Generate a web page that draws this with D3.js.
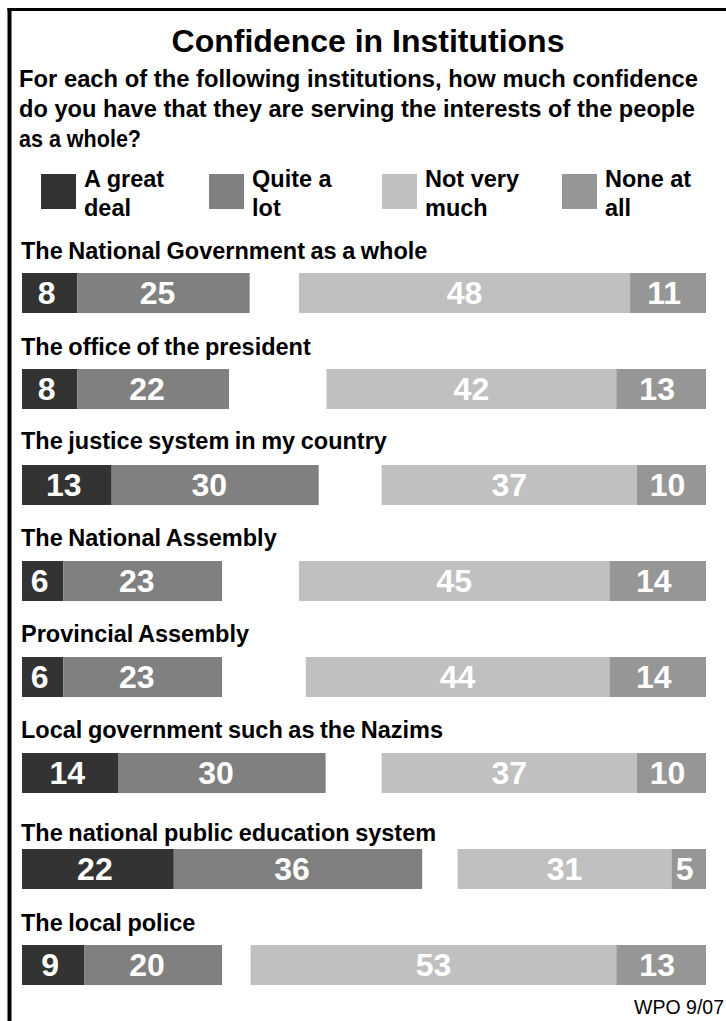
<!DOCTYPE html>
<html>
<head>
<meta charset="utf-8">
<script src="https://cdn.jsdelivr.net/npm/d3@7/dist/d3.min.js"></script>
<style>
  html, body { margin: 0; padding: 0; background: #fff; }
  svg { display: block; }
  text { font-family: "Liberation Sans", Arial, sans-serif; }
</style>
</head>
<body>
<svg id="chart" width="726" height="1021"></svg>
<script>
// ---- data ----
const titleText = "Confidence in Institutions";
const subtitleLines = [
  "For each of the following institutions, how much confidence",
  "do you have that they are serving the interests of the people",
  "as a whole?"
];
const categories = ["A great deal", "Quite a lot", "Not very much", "None at all"];
const legendLines = [["A great", "deal"], ["Quite a", "lot"], ["Not very", "much"], ["None at", "all"]];
const institutions = [
  "The National Government as a whole",
  "The office of the president",
  "The justice system in my country",
  "The National Assembly",
  "Provincial Assembly",
  "Local government such as the Nazims",
  "The national public education system",
  "The local police"
];
const greatDeal   = [8, 8, 13, 6, 6, 14, 22, 9];
const quiteALot   = [25, 22, 30, 23, 23, 30, 36, 20];
const notVeryMuch = [48, 42, 37, 45, 44, 37, 31, 53];
const noneAtAll   = [11, 13, 10, 14, 14, 10, 5, 13];
const sourceNote = "WPO 9/07";

// ---- layout / style ----
const colors = ["#333333", "#808080", "#c0c0c0", "#969696"];
const valueShift = [-3, -6, 0, -4];
const barLeft = 22, barRight = 706, barH = 40;
const labelLift = [14, 14, 16, 15, 15, 15, 8, 14];

const svg = d3.select("#chart");

// frame
svg.append("rect").attr("x", 7.5).attr("y", 8).attr("width", 4).attr("height", 1021).attr("fill", "#000");
svg.append("rect").attr("x", 7.5).attr("y", 8).attr("width", 726).attr("height", 3).attr("fill", "#000");

// title
svg.append("text").attr("x", 368).attr("y", 52).attr("text-anchor", "middle")
  .attr("font-size", 32).attr("font-weight", "bold").attr("fill", "#000").text(titleText);

// subtitle
const subWidths = [679, 676, 122];
subtitleLines.forEach((s, i) => {
  svg.append("text").attr("x", 19).attr("y", 87 + i * 30)
    .attr("font-size", 23.5).attr("font-weight", "bold").attr("fill", "#000")
    .attr("textLength", subWidths[i]).attr("lengthAdjust", "spacingAndGlyphs")
    .text(s);
});

// legend
const legendX = [41, 209, 382, 562];
categories.forEach((c, i) => {
  const g = svg.append("g");
  g.append("rect").attr("x", legendX[i]).attr("y", 174).attr("width", 35).attr("height", 35).attr("fill", colors[i]);
  legendLines[i].forEach((ln, j) => {
    g.append("text").attr("x", legendX[i] + 43).attr("y", 187 + j * 29)
      .attr("font-size", 23.5).attr("font-weight", "bold").attr("fill", "#000").text(ln);
  });
});

// scales
const x = d3.scaleLinear().domain([0, 100]).range([0, 690]);
const y = d3.scaleLinear().domain([0, 1]).range([273, 369]);

const rows = institutions.map((name, i) => {
  const g = greatDeal[i], q = quiteALot[i], n = notVeryMuch[i], z = noneAtAll[i];
  return {
    name, i,
    segs: [
      { v: g, x0: barLeft, x1: barLeft + x(g), c: 0 },
      { v: q, x0: barLeft + x(g), x1: barLeft + x(g + q), c: 1 },
      { v: n, x0: barRight - x(n + z), x1: barRight - x(z), c: 2 },
      { v: z, x0: barRight - x(z), x1: barRight, c: 3 }
    ]
  };
});

const rowG = svg.selectAll("g.row").data(rows).join("g").attr("class", "row");

rowG.append("text")
  .attr("x", barLeft - 1)
  .attr("y", d => y(d.i) - labelLift[d.i])
  .attr("font-size", 23.5).attr("font-weight", "bold").attr("fill", "#000")
  .attr("word-spacing", -1)
  .text(d => d.name);

rowG.selectAll("rect.seg").data(d => d.segs.map(s => ({ ...s, i: d.i }))).join("rect")
  .attr("class", "seg")
  .attr("x", s => s.x0).attr("y", s => y(s.i))
  .attr("width", s => s.x1 - s.x0).attr("height", barH)
  .attr("fill", s => colors[s.c]);

rowG.selectAll("text.val").data(d => d.segs.map(s => ({ ...s, i: d.i }))).join("text")
  .attr("class", "val")
  .attr("x", s => (s.x0 + s.x1) / 2 + valueShift[s.c])
  .attr("y", s => y(s.i) + 31)
  .attr("text-anchor", "middle")
  .attr("font-size", 32).attr("font-weight", "bold").attr("fill", "#fff")
  .text(s => s.v);

// source note
svg.append("text").attr("x", 724).attr("y", 1014).attr("text-anchor", "end")
  .attr("font-size", 19.5).attr("fill", "#000").text(sourceNote);
</script>
</body>
</html>
